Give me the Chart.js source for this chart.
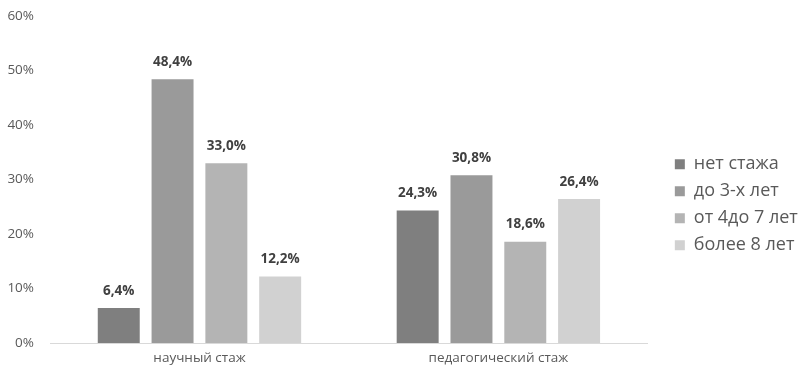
<!DOCTYPE html>
<html lang="ru">
<head>
<meta charset="utf-8">
<script src="https://cdn.jsdelivr.net/npm/chart.js@4/dist/chart.umd.min.js"></script>
<style>
  html, body { margin: 0; padding: 0; background: #fff; }
  #wrap { width: 803px; height: 369px; }
</style>
</head>
<body>
<div id="wrap"><canvas id="myChart"></canvas></div>
<script>
// категории и серии
const categories = ["научный стаж", "педагогический стаж"];
const seriesNames = ["нет стажа", "до 3-х лет", "от 4до 7 лет", "более 8 лет"];
const netStazha = [6.4, 24.3];
const do3Let = [48.4, 30.8];
const ot4do7 = [33.0, 18.6];
const bolee8 = [12.2, 26.4];
const seriesColors = ["#7f7f7f", "#9a9a9a", "#b4b4b4", "#d1d1d1"];
const yTicks = [0, 10, 20, 30, 40, 50, 60];

const fontFamily = "'Open Sans', sans-serif";
const allSeries = [netStazha, do3Let, ot4do7, bolee8];

// подписи значений над столбиками
const valueLabels = {
  id: "valueLabels",
  afterDatasetsDraw(chart) {
    const ctx = chart.ctx;
    ctx.save();
    ctx.font = "bold 13.5px " + fontFamily;
    ctx.fillStyle = "#404040";
    ctx.textAlign = "center";
    ctx.textBaseline = "middle";
    chart.data.datasets.forEach((ds, i) => {
      chart.getDatasetMeta(i).data.forEach((bar, j) => {
        const txt = ds.data[j].toFixed(1).replace(".", ",") + "%";
        ctx.fillText(txt, bar.x, bar.y - 17);
      });
    });
    ctx.restore();
  }
};

const datasets = seriesNames.map((name, i) => ({
  label: name,
  data: allSeries[i],
  backgroundColor: seriesColors[i],
  borderWidth: 0,
  categoryPercentage: 0.72,
  barPercentage: 0.78
}));

const config = {
  type: "bar",
  data: { labels: categories, datasets },
  options: {
    responsive: true,
    maintainAspectRatio: false,
    animation: false,
    layout: { padding: { top: 16, right: 4, bottom: 0, left: 0 } },
    plugins: {
      tooltip: { enabled: false },
      legend: {
        position: "right",
        title: { display: true, text: " ", font: { size: 12 }, padding: { top: 10, bottom: 0 } },
        labels: {
          boxWidth: 10,
          boxHeight: 10,
          padding: 9,
          color: "#595959",
          font: { family: fontFamily, size: 18 }
        }
      }
    },
    scales: {
      x: {
        grid: { display: false, drawTicks: false },
        border: { display: true, color: "#d9d9d9", width: 1 },
        ticks: { color: "#595959", padding: 7, font: { family: fontFamily, size: 13.5 } },
        afterFit: (s) => { s.height = 26; }
      },
      y: {
        min: 0,
        max: 60,
        afterBuildTicks: (s) => { s.ticks = yTicks.map((v) => ({ value: v })); },
        grid: { display: false, drawTicks: false },
        border: { display: false },
        ticks: {
          color: "#595959",
          padding: 16,
          font: { family: fontFamily, size: 13.5 },
          callback: (v) => v + "%"
        },
        // верх области графика задаётся только layout.padding
        afterFit: (s) => { s.width = 50; s.paddingTop = 0; }
      },
      // пустая ось справа — отступ между графиком и легендой
      gap: {
        type: "linear",
        position: "right",
        display: true,
        grid: { display: false, drawTicks: false },
        border: { display: false },
        ticks: { display: false },
        afterFit: (s) => { s.width = 18; }
      }
    }
  },
  plugins: [valueLabels]
};

const chart = new Chart(document.getElementById("myChart"), config);
</script>
</body>
</html>
